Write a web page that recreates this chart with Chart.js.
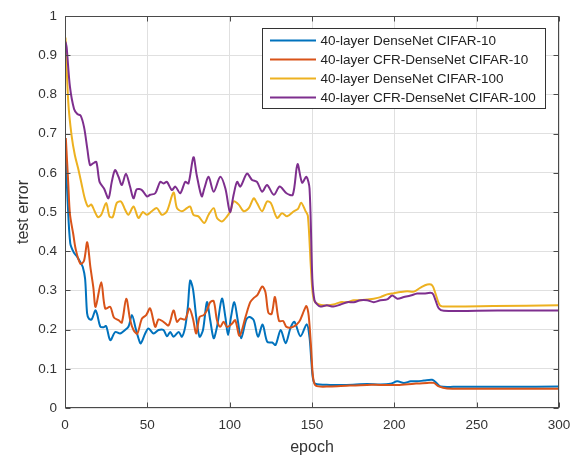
<!DOCTYPE html>
<html>
<head>
<meta charset="utf-8">
<script src="https://cdn.jsdelivr.net/npm/chart.js@4.4.1/dist/chart.umd.min.js"></script>
<style>
  html, body { margin: 0; padding: 0; background: #ffffff; }
  #c { display: block; }
</style>
</head>
<body>
<canvas id="c" width="580" height="458"></canvas>
<script>
// ---------------- DATA ----------------
const seriesLabels = [
  '40-layer DenseNet CIFAR-10',
  '40-layer CFR-DenseNet CIFAR-10',
  '40-layer DenseNet CIFAR-100',
  '40-layer CFR-DenseNet CIFAR-100'
];

const xTickValues = [0, 50, 100, 150, 200, 250, 300];
const xTickLabels = ['0', '50', '100', '150', '200', '250', '300'];
const yTickValues = [0, 0.1, 0.2, 0.3, 0.4, 0.5, 0.6, 0.7, 0.8, 0.9, 1];
const yTickLabels = ['0', '0.1', '0.2', '0.3', '0.4', '0.5', '0.6', '0.7', '0.8', '0.9', '1'];

// 40-layer DenseNet CIFAR-10 (blue)
const blueEpochs = [0.3, 1.6, 3.2, 5.3, 7.5, 9.3, 10.8, 12.2, 13.4, 14.5, 16.2, 18.4, 19.5, 21.4, 23.4, 25, 27.5, 30.5, 33.5, 36.5, 38.6, 40.7, 42.8, 44.6, 46, 48.7, 50.7, 53.8, 56.8, 59.8, 61.9, 63.9, 65.9, 69, 71, 73, 74.6, 76, 77.7, 79.7, 81.7, 83.8, 86.2, 88.2, 90.3, 92.3, 95.3, 97.4, 99, 100.8, 102.8, 104.9, 107, 110, 112, 114.6, 117.2, 120, 122.8, 125.8, 127.9, 131, 134, 137, 139.3, 143, 146.8, 148.5, 149.6, 150.6, 152, 161, 171, 183.5, 191.6, 197.7, 201.8, 205.8, 209.9, 213.9, 218, 223, 225.6, 228, 236, 252, 272, 300];
const blueValues = [0.65, 0.528, 0.42, 0.397, 0.385, 0.372, 0.36, 0.33, 0.242, 0.228, 0.226, 0.249, 0.24, 0.208, 0.206, 0.209, 0.173, 0.194, 0.19, 0.199, 0.208, 0.237, 0.205, 0.178, 0.165, 0.19, 0.203, 0.19, 0.199, 0.199, 0.183, 0.194, 0.182, 0.194, 0.182, 0.207, 0.258, 0.325, 0.304, 0.232, 0.182, 0.199, 0.27, 0.224, 0.178, 0.207, 0.279, 0.232, 0.186, 0.232, 0.27, 0.224, 0.178, 0.225, 0.232, 0.224, 0.182, 0.213, 0.169, 0.167, 0.161, 0.199, 0.165, 0.205, 0.22, 0.183, 0.214, 0.18, 0.12, 0.075, 0.062, 0.059, 0.059, 0.061, 0.06, 0.062, 0.068, 0.064, 0.068, 0.068, 0.07, 0.072, 0.064, 0.055, 0.054, 0.054, 0.054, 0.055];

// 40-layer CFR-DenseNet CIFAR-10 (orange)
const orangeEpochs = [0.5, 2, 3, 5, 6.5, 9.3, 11.5, 13.5, 15.4, 17.2, 18.6, 22, 24.4, 27.5, 29.7, 32.5, 34.5, 37.2, 39.6, 41.6, 43.9, 46.7, 49.3, 51.7, 54.8, 56.8, 59.8, 62.9, 65.9, 68, 70, 73, 75.5, 77.7, 79.7, 81.7, 84.2, 86.2, 88.2, 90.3, 92.3, 94.3, 96.3, 98.4, 101.4, 103.4, 106, 109.6, 112.5, 114.7, 116.8, 119.8, 121.7, 123.5, 125.5, 127.5, 130, 132.5, 134.5, 138.5, 142.2, 145.2, 146.6, 148, 149.5, 150.6, 152.3, 161, 171, 183.5, 191.6, 201.8, 212, 220, 224, 227, 232, 260, 300];
const orangeValues = [0.689, 0.571, 0.495, 0.444, 0.405, 0.368, 0.375, 0.423, 0.36, 0.308, 0.258, 0.321, 0.254, 0.258, 0.231, 0.224, 0.218, 0.279, 0.224, 0.199, 0.19, 0.228, 0.237, 0.254, 0.207, 0.226, 0.22, 0.211, 0.249, 0.22, 0.228, 0.226, 0.254, 0.228, 0.19, 0.232, 0.237, 0.249, 0.27, 0.273, 0.224, 0.207, 0.22, 0.207, 0.215, 0.224, 0.184, 0.232, 0.27, 0.281, 0.288, 0.31, 0.296, 0.243, 0.24, 0.283, 0.222, 0.222, 0.207, 0.207, 0.22, 0.249, 0.26, 0.235, 0.15, 0.08, 0.057, 0.055, 0.057, 0.059, 0.059, 0.059, 0.062, 0.064, 0.064, 0.055, 0.05, 0.049, 0.049];

// 40-layer DenseNet CIFAR-100 (yellow)
const yellowEpochs = [0.3, 2, 4, 6, 8, 10, 12, 14, 16, 18, 20, 22, 25, 27, 29, 31.4, 34, 36.5, 38.5, 41.6, 44.6, 47.3, 49.7, 52.7, 55.8, 58.8, 61.9, 65.9, 68, 71, 74, 76, 78, 81, 84.6, 87.2, 90.3, 92.3, 95.3, 98.4, 100.4, 102.4, 105.5, 108.5, 111.6, 114.6, 116.6, 119.7, 122.7, 125, 128.8, 131.8, 134.9, 139, 141.5, 143.4, 146, 147.5, 149.3, 150.5, 152, 157, 163, 167.3, 171.3, 175.4, 179.4, 183.5, 187.5, 191.6, 195.6, 199.7, 203.7, 207.8, 211.9, 215.9, 220, 223, 225, 227.7, 232, 260, 300];
const yellowValues = [0.945, 0.78, 0.695, 0.645, 0.611, 0.573, 0.535, 0.514, 0.519, 0.502, 0.487, 0.493, 0.523, 0.489, 0.487, 0.523, 0.527, 0.506, 0.493, 0.514, 0.485, 0.5, 0.493, 0.502, 0.51, 0.493, 0.502, 0.55, 0.51, 0.502, 0.51, 0.514, 0.493, 0.489, 0.472, 0.493, 0.51, 0.485, 0.476, 0.489, 0.502, 0.527, 0.519, 0.502, 0.51, 0.535, 0.523, 0.502, 0.527, 0.523, 0.485, 0.497, 0.489, 0.502, 0.508, 0.524, 0.503, 0.49, 0.36, 0.29, 0.27, 0.262, 0.264, 0.27, 0.27, 0.275, 0.275, 0.277, 0.279, 0.283, 0.29, 0.293, 0.296, 0.298, 0.297, 0.307, 0.315, 0.313, 0.292, 0.262, 0.259, 0.26, 0.262];

// 40-layer CFR-DenseNet CIFAR-100 (purple)
const purpleEpochs = [0.3, 1, 3, 5.5, 7.5, 9.5, 11.6, 13.6, 15.2, 17, 19, 21, 23.7, 26.4, 28.4, 30.4, 32.5, 34.5, 37, 39.5, 41.6, 43.6, 46.7, 49.7, 51.7, 54.8, 57.8, 59.8, 61.9, 64.9, 67, 70, 73, 75, 78, 80, 83, 84.6, 87.2, 90.3, 94.3, 97.4, 100.2, 102.4, 104.5, 106.5, 110.5, 113.6, 116.6, 119.7, 122.7, 126.8, 130.4, 134.5, 138.3, 141.2, 144, 146.6, 148.5, 150.2, 151.5, 153, 155, 159, 163, 167.3, 171.3, 175.4, 179.4, 183.5, 187.5, 191.6, 195.6, 198.7, 201.8, 205.8, 209.9, 213.9, 218, 223, 225, 227, 230, 250, 275, 300];
const purpleValues = [0.935, 0.92, 0.82, 0.763, 0.75, 0.746, 0.716, 0.66, 0.62, 0.624, 0.628, 0.577, 0.56, 0.535, 0.577, 0.607, 0.59, 0.569, 0.598, 0.565, 0.535, 0.558, 0.556, 0.54, 0.544, 0.548, 0.577, 0.573, 0.577, 0.556, 0.565, 0.548, 0.577, 0.573, 0.64, 0.594, 0.54, 0.56, 0.59, 0.552, 0.59, 0.56, 0.5, 0.544, 0.577, 0.565, 0.598, 0.582, 0.577, 0.552, 0.569, 0.544, 0.565, 0.548, 0.544, 0.622, 0.575, 0.59, 0.56, 0.33, 0.275, 0.265, 0.259, 0.262, 0.259, 0.264, 0.27, 0.27, 0.275, 0.275, 0.27, 0.275, 0.277, 0.287, 0.279, 0.283, 0.287, 0.292, 0.292, 0.293, 0.275, 0.254, 0.248, 0.248, 0.249, 0.249];

// ---------------- STYLE ----------------
const colors = ['#0072BD', '#D95319', '#EDB120', '#7E2F8E'];
const axisColor = '#4a4a4a';
const textColor = '#333333';
const FONT = '"Liberation Sans", Arial, Helvetica, sans-serif';

function toPoints(xs, ys) { return xs.map((x, i) => ({ x: x, y: ys[i] })); }

const seriesData = [
  toPoints(blueEpochs, blueValues),
  toPoints(orangeEpochs, orangeValues),
  toPoints(yellowEpochs, yellowValues),
  toPoints(purpleEpochs, purpleValues)
];

const datasets = seriesData.map((d, i) => ({
  label: seriesLabels[i],
  data: d,
  borderColor: colors[i],
  backgroundColor: colors[i],
  borderWidth: 2,
  pointRadius: 0,
  fill: false,
  tension: 0.3,
  borderJoinStyle: 'round',
  order: 4 - i
}));

// Box, inward ticks and legend (MATLAB look)
const boxPlugin = {
  id: 'matlabBox',
  afterDatasetsDraw(chart) {
    const { ctx, chartArea: a, scales } = chart;
    ctx.save();
    ctx.strokeStyle = axisColor;
    ctx.lineWidth = 1;
    const L = Math.round(a.left) + 0.5, R = Math.round(a.right) - 0.5;
    const T = Math.round(a.top) + 0.5, B = Math.round(a.bottom) - 0.5;
    ctx.strokeRect(L, T, R - L, B - T);
    const tl = 5;
    ctx.beginPath();
    xTickValues.forEach(v => {
      const px = Math.round(scales.x.getPixelForValue(v)) + 0.5;
      ctx.moveTo(px, B); ctx.lineTo(px, B - tl);
      ctx.moveTo(px, T); ctx.lineTo(px, T + tl);
    });
    yTickValues.forEach(v => {
      const py = Math.round(scales.y.getPixelForValue(v)) + 0.5;
      ctx.moveTo(L, py); ctx.lineTo(L + tl, py);
      ctx.moveTo(R, py); ctx.lineTo(R - tl, py);
    });
    ctx.stroke();

    // legend box
    const lx = 262.5, ly = 28.5, lw = 283, lh = 80;
    ctx.fillStyle = '#ffffff';
    ctx.fillRect(lx, ly, lw, lh);
    ctx.strokeStyle = '#333333';
    ctx.strokeRect(lx, ly, lw, lh);
    ctx.font = '13.5px ' + FONT;
    ctx.textBaseline = 'middle';
    ctx.textAlign = 'left';
    const rowY = [40.5, 59.5, 78.5, 97.5];
    seriesLabels.forEach((lab, i) => {
      ctx.strokeStyle = colors[i];
      ctx.lineWidth = 2;
      ctx.beginPath();
      ctx.moveTo(270, rowY[i]);
      ctx.lineTo(316, rowY[i]);
      ctx.stroke();
      ctx.fillStyle = '#222222';
      ctx.fillText(lab, 320.5, rowY[i] + 0.5);
    });
    ctx.restore();
  }
};

new Chart(document.getElementById('c').getContext('2d'), {
  type: 'line',
  data: { datasets: datasets },
  options: {
    responsive: false,
    animation: false,
    devicePixelRatio: 1,
    layout: { padding: { top: 14, right: 21, left: 0, bottom: 0 } },
    plugins: { legend: { display: false }, tooltip: { enabled: false } },
    scales: {
      x: {
        type: 'linear',
        min: 0, max: 300,
        afterBuildTicks: s => { s.ticks = xTickValues.map(v => ({ value: v })); },
        afterFit: s => { s.height = 50; },
        ticks: {
          callback: (v, i) => xTickLabels[i],
          color: textColor,
          font: { family: FONT, size: 13.5 },
          padding: 9,
          maxRotation: 0,
          autoSkip: false
        },
        grid: { color: '#e0e0e0', lineWidth: 1, drawTicks: false },
        border: { display: false },
        title: {
          display: true, text: 'epoch', color: textColor,
          font: { family: FONT, size: 16 },
          padding: { top: 0, bottom: 1 }
        }
      },
      y: {
        type: 'linear',
        min: 0, max: 1,
        afterBuildTicks: s => { s.ticks = yTickValues.map(v => ({ value: v })); },
        afterFit: s => { s.width = 65; },
        ticks: {
          callback: (v, i) => yTickLabels[i],
          color: textColor,
          font: { family: FONT, size: 13.5 },
          padding: 8,
          autoSkip: false
        },
        grid: { color: '#e0e0e0', lineWidth: 1, drawTicks: false },
        border: { display: false },
        title: {
          display: true, text: 'test error', color: textColor,
          font: { family: FONT, size: 16 },
          padding: { top: 14, bottom: 0 }
        }
      }
    }
  },
  plugins: [boxPlugin]
});
</script>
</body>
</html>
